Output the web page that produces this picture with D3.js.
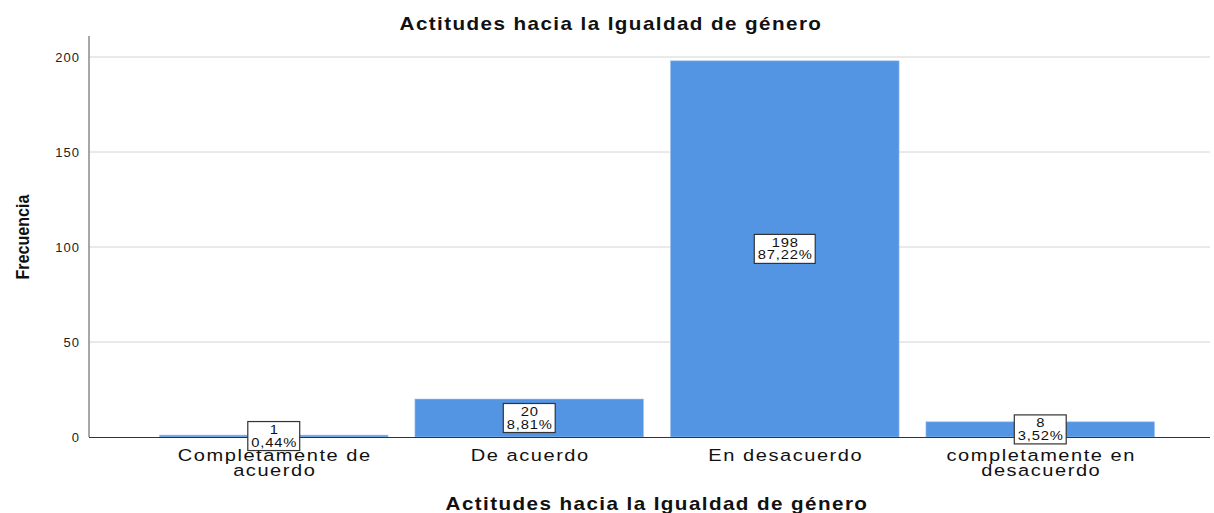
<!DOCTYPE html>
<html>
<head>
<meta charset="utf-8">
<script src="https://cdn.jsdelivr.net/npm/d3@7"></script>
<style>
  body { margin: 0; background: #fff; }
  text { font-family: "Liberation Sans", Arial, sans-serif; }
</style>
</head>
<body>
<div id="chart"></div>
<script>
const categories = [["Completamente de", "acuerdo"], ["De acuerdo"], ["En desacuerdo"], ["completamente en", "desacuerdo"]];
const counts = [1, 20, 198, 8];
const percents = ["0,44%", "8,81%", "87,22%", "3,52%"];
const yTicks = [0, 50, 100, 150, 200];

const width = 1214, height = 513;
const sx = 1.18; // the source chart's text is drawn wider than plain Arial
const svg = d3.select("#chart").append("svg")
  .attr("width", width).attr("height", height);

const keys = categories.map((d, i) => i);
const x = d3.scaleBand().domain(keys).range([146, 1168])
  .paddingInner(0.105).paddingOuter(0.0525);
const y = d3.scaleLinear().domain([0, 200]).range([437, 57]);

// gridlines
svg.append("g").selectAll("line")
  .data(yTicks.filter(d => d > 0))
  .enter().append("line")
  .attr("x1", 89).attr("x2", 1210)
  .attr("y1", d => y(d)).attr("y2", d => y(d))
  .attr("stroke", "#d4d4d4").attr("stroke-width", 1);

// bars
svg.append("g").selectAll("rect")
  .data(counts)
  .enter().append("rect")
  .attr("x", (d, i) => x(i))
  .attr("width", x.bandwidth())
  .attr("y", d => y(d))
  .attr("height", d => y(0) - y(d))
  .attr("fill", "#5495e3")
  .attr("stroke", "#a9c8f0").attr("stroke-width", 0.6);

// y axis
const yAxis = svg.append("g")
  .attr("transform", "translate(89,0)")
  .call(d3.axisLeft(y).tickValues(yTicks).tickSize(0).tickPadding(9));
yAxis.select(".domain").remove();
yAxis.selectAll("text").attr("font-size", 13).attr("fill", "#222")
  .attr("letter-spacing", 1)
  .style("font-family", "'Liberation Sans', Arial, sans-serif");
svg.append("line").attr("x1", 89).attr("x2", 89).attr("y1", 36).attr("y2", 437)
  .attr("stroke", "#8a8a8a").attr("stroke-width", 1.5);

// x axis line
svg.append("line").attr("x1", 89).attr("x2", 1210).attr("y1", 437.5).attr("y2", 437.5)
  .attr("stroke", "#333").attr("stroke-width", 1);

// category labels
const catG = svg.append("g").selectAll("g")
  .data(categories)
  .enter().append("g")
  .attr("transform", (d, i) => `translate(${x(i) + x.bandwidth() / 2 + 1},461) scale(${sx},1)`)
  .append("text")
  .attr("text-anchor", "middle")
  .attr("font-size", 17)
  .attr("letter-spacing", 1.3)
  .attr("fill", "#111");
catG.selectAll("tspan")
  .data(d => d)
  .enter().append("tspan")
  .attr("x", 0)
  .attr("dy", (d, j) => j === 0 ? 0 : 15)
  .text(d => d);

// value labels
const lab = svg.append("g").selectAll("g")
  .data(counts)
  .enter().append("g")
  .attr("transform", (d, i) => `translate(${x(i) + x.bandwidth() / 2},${(y(d) + y(0)) / 2})`);
const box = lab.append("rect")
  .attr("y", -14.5).attr("height", 29)
  .attr("fill", "#fff").attr("stroke", "#333").attr("stroke-width", 1.2);
const inner = lab.append("g").attr("transform", `scale(${sx},1)`);
const t1 = inner.append("text").attr("text-anchor", "middle").attr("font-size", 12.5).attr("fill", "#111")
  .attr("letter-spacing", 0.7).attr("x", 0.35)
  .attr("y", -2).text(d => d);
const t2 = inner.append("text").attr("text-anchor", "middle").attr("font-size", 12.5).attr("fill", "#111")
  .attr("letter-spacing", 0.7).attr("x", 0.35)
  .attr("y", 10.5).text((d, i) => percents[i]);
box.each(function(d, i) {
  const w = Math.max(t1.nodes()[i].getComputedTextLength(), t2.nodes()[i].getComputedTextLength()) * sx + 6;
  d3.select(this).attr("x", -w / 2).attr("width", w);
});

// titles
const titleText = "Actitudes hacia la Igualdad de género";
svg.append("g").attr("transform", `translate(611,30) scale(${sx},1)`)
  .append("text").attr("text-anchor", "middle")
  .attr("font-size", 17.5).attr("font-weight", "bold").attr("fill", "#111")
  .attr("letter-spacing", 1.2)
  .text(titleText);
svg.append("g").attr("transform", `translate(657,510) scale(${sx},1)`)
  .append("text").attr("text-anchor", "middle")
  .attr("font-size", 17.5).attr("font-weight", "bold").attr("fill", "#111")
  .attr("letter-spacing", 1.2)
  .text(titleText);
svg.append("text")
  .attr("transform", "translate(29,237) rotate(-90)")
  .attr("text-anchor", "middle")
  .attr("font-size", 18).attr("font-weight", "bold").attr("fill", "#111")
  .attr("textLength", 85).attr("lengthAdjust", "spacingAndGlyphs")
  .text("Frecuencia");
</script>
</body>
</html>
